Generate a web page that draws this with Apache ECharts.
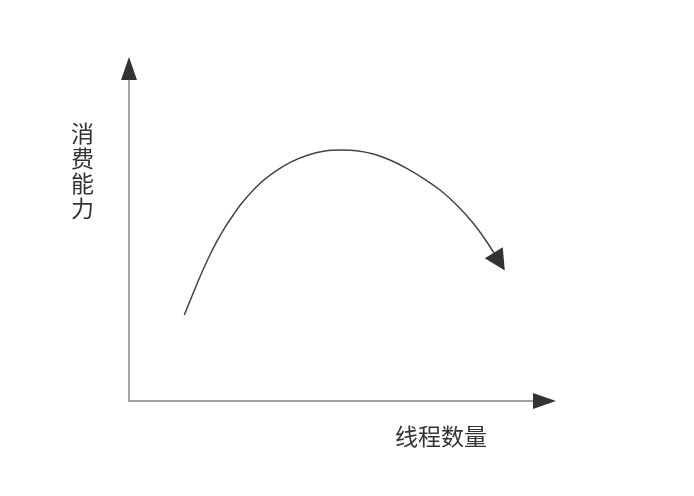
<!DOCTYPE html>
<html>
<head>
<meta charset="utf-8">
<script src="https://cdn.jsdelivr.net/npm/echarts@6/dist/echarts.min.js"></script>
<style>
html,body{margin:0;padding:0;background:#fff;}
#chart{width:694px;height:496px;}
</style>
</head>
<body>
<div id="chart"></div>
<script>
// Conceptual curve: consumption capacity vs. number of threads (values in a 0-100 space)
const xName = '线程数量';
const yName = '消费能力';
const curveX = [13.31, 15.09, 17.09, 19.09, 21.11, 23.10, 25.10, 27.12, 31.12, 35.14, 39.16, 43.15, 47.17, 51.19,
                54.80, 58.80, 62.82, 66.84, 70.83, 74.85, 78.87, 82.86, 86.09, 87.77];
const curveY = [25.86, 31.37, 37.38, 42.92, 47.91, 52.24, 55.94, 59.46, 64.96, 68.96, 71.97, 73.98, 75.19, 75.49,
                75.28, 74.29, 72.48, 69.98, 66.98, 63.46, 58.95, 53.44, 47.91, 44.66];
const arrowFrom = [87.77, 44.66];
const arrowTo = [89.12, 41.92];

const chart = echarts.init(document.getElementById('chart'), null, {renderer: 'canvas'});
const curveData = curveX.map((x, i) => [x, curveY[i]]);

const hiddenParts = {
  axisTick: {show: false},
  axisLabel: {show: false},
  splitLine: {show: false}
};

chart.setOption({
  backgroundColor: '#ffffff',
  animation: false,
  grid: {left: 129, right: 149.5, top: 68.5, bottom: 95, containLabel: false},
  xAxis: [
    Object.assign({type: 'value', min: 0, max: 100, position: 'bottom',
      axisLine: {show: true, onZero: false, lineStyle: {color: '#a3a3a3', width: 2}}}, hiddenParts),
    Object.assign({type: 'value', min: 0, max: 100, position: 'bottom', offset: 0,
      axisLine: {show: true, onZero: false, symbol: ['none', 'triangle'], symbolSize: [16, 23],
        lineStyle: {color: '#333333', width: 0}}}, hiddenParts)
  ],
  yAxis: [
    Object.assign({type: 'value', min: 0, max: 100, position: 'left',
      axisLine: {show: true, onZero: false, lineStyle: {color: '#a3a3a3', width: 2}}}, hiddenParts),
    Object.assign({type: 'value', min: 0, max: 100, position: 'left', offset: 0,
      axisLine: {show: true, onZero: false, symbol: ['none', 'triangle'], symbolSize: [16, 23],
        lineStyle: {color: '#333333', width: 0}}}, hiddenParts)
  ],
  graphic: [
    {type: 'text', left: 395, top: 425,
      style: {text: xName, fontSize: 23, fill: '#333', fontFamily: 'Noto Sans CJK SC'}},
    {type: 'text', left: 71, top: 121,
      style: {text: yName.split('').join('\n'), fontSize: 23, lineHeight: 25, fill: '#333', fontFamily: 'Noto Sans CJK SC'}}
  ],
  series: [
    {
      type: 'line', xAxisIndex: 0, yAxisIndex: 0,
      data: curveData, smooth: 0.3, symbol: 'none',
      lineStyle: {color: '#444444', width: 1.5}
    },
    {
      type: 'lines', coordinateSystem: 'cartesian2d', xAxisIndex: 0, yAxisIndex: 0,
      symbol: ['none', 'triangle'], symbolSize: [16, 21],
      lineStyle: {color: '#333333', width: 1.5, opacity: 1, curveness: 0},
      data: [{coords: [arrowFrom, arrowTo]}]
    }
  ]
});
</script>
</body>
</html>
